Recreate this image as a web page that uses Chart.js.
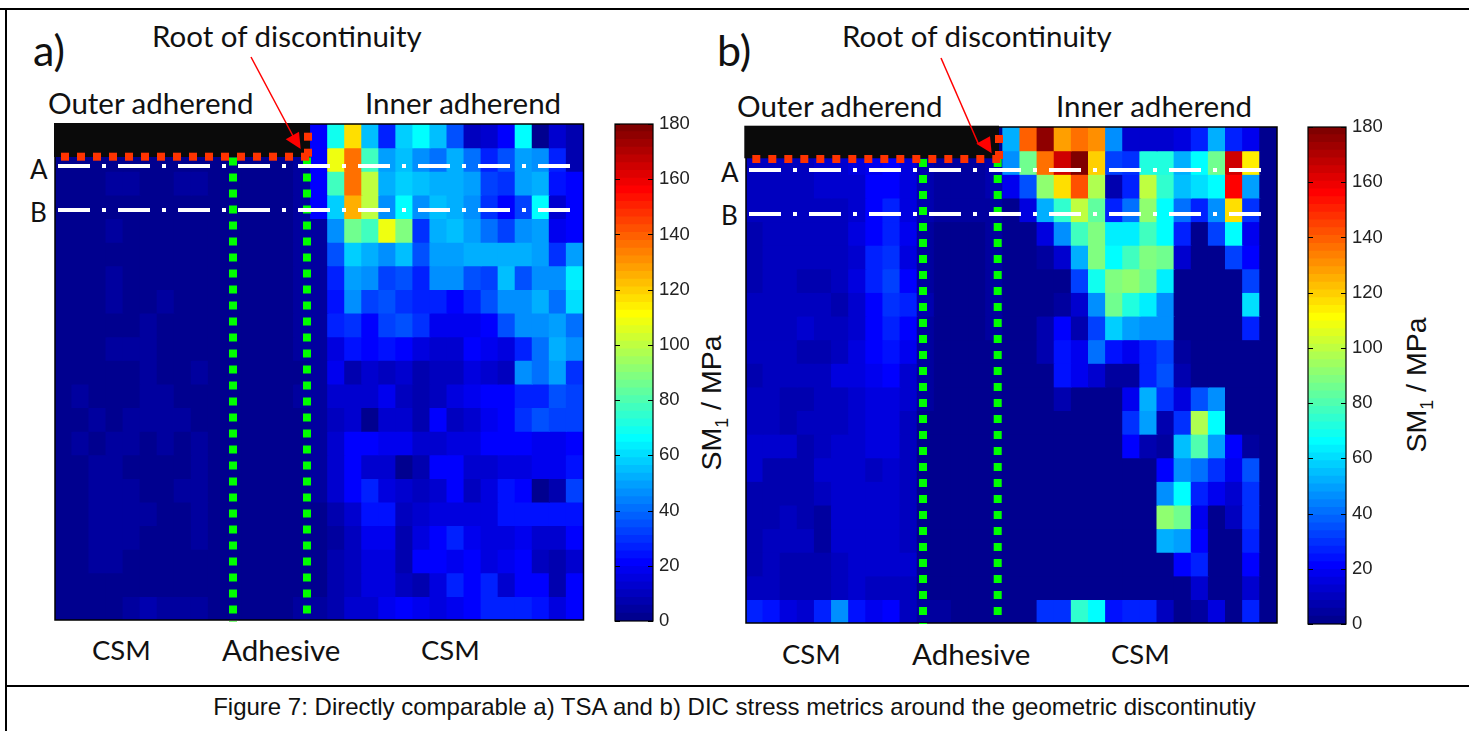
<!DOCTYPE html>
<html>
<head>
<meta charset="utf-8">
<title>Figure 7</title>
<script src="https://cdn.jsdelivr.net/npm/chart.js@4"></script>
<style>
    html, body { margin: 0; padding: 0; background: #fff; overflow: hidden; }
    #page { position: relative; width: 1469px; height: 731px; overflow: hidden; }
    canvas { position: absolute; }
    .rule { position: absolute; background: #000; }
    .txt { position: absolute; font-family: Lato, sans-serif; font-size: 29.5px; line-height: 34px; color: #111; white-space: nowrap; }
    .csm { font-size: 27.5px; }
    .tag { font-size: 26px; }
    .panel { font-size: 43px; line-height: 44px; }
    .ylab { position: absolute; font-family: "Liberation Sans", Arial, sans-serif; font-size: 28.5px; line-height: 28px; color: #111; white-space: nowrap; transform: translate(-50%, -50%) rotate(-90deg); }
    .ylab sub { font-size: 18px; line-height: 0; }
    #caption { position: absolute; left: 0; width: 1469px; text-align: center; top: 695px; font-family: "Liberation Sans", Arial, sans-serif; font-size: 24px; line-height: 24px; color: #111; white-space: nowrap; }
</style>
</head>
<body>
<div id="page">
    <div class="rule" style="left:0;top:8px;width:1469px;height:2px"></div>
    <div class="rule" style="left:5px;top:8px;width:2px;height:723px"></div>
    <div class="rule" style="left:6px;top:685px;width:1463px;height:2px"></div>

    <div class="txt panel" style="left:33px;top:28px">a)</div>
    <div class="txt" style="left:152px;top:19px">Root of discontinuity</div>
    <div class="txt" style="left:48px;top:86px">Outer adherend</div>
    <div class="txt" style="left:365px;top:86px">Inner adherend</div>
    <div class="txt tag" style="left:30px;top:152px">A</div>
    <div class="txt tag" style="left:30px;top:195px">B</div>
    <div class="txt csm" style="left:92px;top:633px">CSM</div>
    <div class="txt" style="left:222px;top:633px">Adhesive</div>
    <div class="txt csm" style="left:421px;top:633px">CSM</div>
    <div class="ylab" style="left:711px;top:403px">SM<sub>1</sub> / MPa</div>

    <div class="txt panel" style="left:717px;top:28px">b)</div>
    <div class="txt" style="left:842px;top:19px">Root of discontinuity</div>
    <div class="txt" style="left:737px;top:89px">Outer adherend</div>
    <div class="txt" style="left:1056px;top:89px">Inner adherend</div>
    <div class="txt tag" style="left:721px;top:155px">A</div>
    <div class="txt tag" style="left:721px;top:198px">B</div>
    <div class="txt csm" style="left:782px;top:637px">CSM</div>
    <div class="txt" style="left:912px;top:637px">Adhesive</div>
    <div class="txt csm" style="left:1111px;top:637px">CSM</div>
    <div class="ylab" style="left:1416px;top:385px">SM<sub>1</sub> / MPa</div>

    <div id="caption">Figure 7: Directly comparable a) TSA and b) DIC stress metrics around the geometric discontinutiy</div>

    <canvas id="mapA" style="left:40px;top:50px" width="560" height="590"></canvas>
    <canvas id="barA" style="left:610px;top:110px" width="90" height="530"></canvas>
    <canvas id="mapB" style="left:731px;top:50px" width="560" height="590"></canvas>
    <canvas id="barB" style="left:1303px;top:113px" width="90" height="530"></canvas>
</div>

<script>
// colour scale, MPa
const scaleMin = 0;
const scaleMax = 180;
const scaleStep = 20;
const scaleLevels = 64;

// a) TSA, SM1 in MPa, one row per line, top to bottom, 31 columns
const tsaValues = [
    [2,2,2,2,2,2,2,2,2,2,2,2,2,2,2,22,70,118,55,28,59,67,55,36,11,13,21,67,2,14,8],
    [2,2,2,2,2,2,2,2,2,2,2,2,2,2,5,22,108,135,78,50,55,45,42,53,42,26,36,50,45,26,8],
    [2,2,2,5,5,2,2,5,5,2,2,2,2,2,5,22,78,135,100,53,59,55,52,53,48,33,30,50,52,24,20],
    [2,2,2,2,2,2,2,2,2,2,2,2,2,2,5,22,58,126,100,45,67,47,55,52,45,30,22,33,65,14,20],
    [2,2,2,5,2,2,2,2,2,2,2,2,2,2,5,5,45,85,78,108,88,30,52,56,50,42,33,47,50,17,20],
    [2,2,2,2,2,2,2,2,2,2,2,2,2,2,5,5,36,58,53,45,56,36,50,50,53,52,52,53,50,30,50],
    [2,2,2,5,2,2,2,2,2,2,2,2,2,2,5,5,26,50,46,33,36,28,47,45,36,33,56,36,45,45,63],
    [2,2,2,5,2,2,5,2,2,2,2,2,2,2,5,5,24,45,33,36,30,26,26,22,26,36,47,47,53,42,60],
    [2,2,2,2,2,5,2,2,2,2,2,2,2,2,5,5,26,30,22,33,36,30,18,17,18,20,36,45,45,50,42],
    [2,2,2,5,5,5,2,2,2,2,2,2,2,2,5,5,16,24,22,24,22,15,13,12,22,17,16,26,42,53,45],
    [2,2,2,2,2,5,2,2,5,2,2,2,2,2,2,5,17,8,12,10,14,7,10,9,15,12,10,45,42,50,30],
    [2,5,2,2,2,5,5,2,2,2,2,2,2,2,5,4,12,12,14,17,10,8,10,16,18,20,22,28,26,36,33],
    [2,2,5,2,5,5,5,5,2,2,2,2,2,2,2,4,9,14,2,12,12,8,20,10,12,18,20,30,36,33,33],
    [2,5,2,5,5,2,5,2,5,2,2,2,2,2,2,4,13,20,20,17,17,13,13,15,15,22,20,20,17,17,22],
    [2,2,5,5,2,2,2,2,5,2,2,2,2,2,2,4,12,20,14,14,2,7,20,20,14,14,16,16,19,19,24],
    [2,2,5,5,5,2,2,5,5,2,2,2,2,2,2,4,12,22,28,16,12,11,12,22,11,16,24,22,2,7,33],
    [2,2,5,5,5,5,2,2,5,2,2,2,2,2,2,2,7,12,24,24,10,14,15,15,15,15,24,24,24,24,24],
    [2,2,5,5,5,2,2,2,5,2,2,2,2,2,2,2,4,11,19,19,7,15,22,28,17,15,15,17,13,14,20],
    [2,2,5,5,2,2,2,2,2,2,2,2,2,2,2,2,8,11,16,16,8,20,20,17,20,16,18,22,11,7,14],
    [2,2,2,2,2,2,2,2,2,2,2,2,2,2,2,2,6,9,16,16,11,8,15,28,22,28,14,21,21,6,22],
    [2,2,2,2,5,7,5,5,5,2,2,2,2,2,5,5,6,14,14,19,22,19,15,18,22,28,26,26,24,15,22]
];

// b) DIC, SM1 in MPa, same grid
const dicValues = [
    [2,2,2,2,2,2,2,2,2,2,2,2,2,2,2,52,140,175,128,135,130,45,14,13,13,16,26,53,28,17,2],
    [11,11,11,11,12,13,15,19,20,15,6,5,5,5,6,45,85,135,165,178,119,33,30,72,72,53,65,85,165,114,2],
    [10,10,10,10,12,13,14,20,22,15,6,5,5,5,6,17,36,90,118,143,96,8,26,100,75,56,60,67,157,48,2],
    [10,10,10,10,9,11,14,22,28,15,6,5,5,5,5,2,15,52,75,100,82,28,42,90,65,42,28,47,116,30,2],
    [6,10,10,10,10,11,15,22,28,17,5,2,2,2,5,2,2,16,45,78,88,62,63,78,65,28,2,33,67,17,2],
    [6,10,10,10,10,11,14,26,30,16,5,2,2,2,5,2,2,5,14,52,88,67,78,88,85,14,2,2,33,22,2],
    [8,10,10,7,7,11,15,26,32,20,5,2,2,2,5,2,2,2,2,33,70,88,90,85,62,2,2,2,2,33,2],
    [9,9,9,11,11,7,14,22,30,28,6,2,2,2,5,2,2,2,5,14,47,85,72,63,45,2,2,2,2,60,2],
    [9,9,11,14,11,11,14,20,26,20,5,2,2,2,5,2,2,8,22,8,33,58,50,47,45,2,2,2,2,26,2],
    [9,9,9,8,8,11,15,20,24,18,5,2,2,2,2,2,2,8,24,18,42,24,19,26,33,4,2,2,2,2,2],
    [8,11,9,9,11,15,15,17,22,14,5,2,2,2,2,2,2,2,24,17,14,4,5,26,36,6,2,2,2,2,2],
    [10,10,7,7,10,10,12,15,16,13,5,2,2,2,2,2,2,2,6,2,2,2,18,52,30,16,36,46,2,2,2],
    [10,10,7,11,11,10,12,15,15,11,2,2,2,2,2,2,2,2,2,2,2,2,30,48,8,30,96,67,2,2,2],
    [14,12,12,8,11,12,12,15,15,11,2,2,2,2,2,2,2,2,2,2,2,2,22,7,4,55,80,48,20,5,2],
    [14,8,8,8,12,14,14,11,14,11,2,2,2,2,2,2,2,2,2,2,2,2,2,2,22,45,42,30,17,36,2],
    [7,7,7,7,11,14,14,14,14,11,2,2,2,2,2,2,2,2,2,2,2,2,2,2,45,67,28,18,12,30,2],
    [7,7,10,7,5,12,14,12,12,11,2,2,2,2,2,2,2,2,2,2,2,2,2,2,90,85,17,2,11,30,2],
    [7,10,10,10,5,12,14,12,12,11,2,2,2,2,2,2,2,2,2,2,2,2,2,2,53,50,22,2,2,26,2],
    [7,10,7,7,7,10,14,12,12,14,2,2,2,2,2,2,2,2,2,2,2,2,2,2,2,22,28,2,2,22,2],
    [10,10,7,7,7,10,12,9,9,11,2,2,2,2,2,2,2,2,2,2,2,2,2,2,2,2,12,2,2,12,2],
    [28,24,16,14,28,45,24,17,20,9,5,5,2,2,2,2,2,30,30,75,67,24,28,28,11,2,5,15,2,27,2]
];

// MATLAB style jet, 64 steps
function jet(value) {
    let i = Math.floor((value - scaleMin) / (scaleMax - scaleMin) * scaleLevels);
    i = Math.max(0, Math.min(scaleLevels - 1, i));
    const clamp = v => Math.max(0, Math.min(1, v));
    const r = i <= 55 ? clamp((i - 23) / 16) : (71 - i) / 16;
    const g = i <= 39 ? clamp((i - 7) / 16) : clamp((55 - i) / 16);
    const b = i <= 23 ? clamp((i + 9) / 16) : clamp((39 - i) / 16);
    return `rgb(${Math.round(r * 255)},${Math.round(g * 255)},${Math.round(b * 255)})`;
}

// overlay drawn on top of a map, pixel offsets are relative to the plot corner
const overlayPlugin = {
    id: 'overlay',
    afterDatasetsDraw(chart, args, opts) {
        const { ctx, chartArea: area } = chart;
        const line = (x1, y1, x2, y2, color, width, dash) => {
            ctx.beginPath();
            ctx.strokeStyle = color;
            ctx.lineWidth = width;
            ctx.setLineDash(dash);
            ctx.moveTo(area.left + x1, area.top + y1);
            ctx.lineTo(area.left + x2, area.top + y2);
            ctx.stroke();
        };
        ctx.save();

        // axes frame
        ctx.setLineDash([]);
        ctx.strokeStyle = '#000';
        ctx.lineWidth = 1.5;
        ctx.strokeRect(area.left, area.top, area.width, area.height);

        // the part hidden by the outer adherend
        ctx.fillStyle = '#0a0a0a';
        ctx.fillRect(area.left + opts.mask.x, area.top + opts.mask.y, opts.mask.w, opts.mask.h);

        // adhesive boundaries
        opts.green.forEach(g => line(g.x, g.y1, g.x, g.y2, '#00ff00', 8, [8, 8]));

        // section lines A and B
        opts.white.forEach(y => line(opts.whiteFrom, y, opts.whiteTo, y, '#fff', 4, [32, 12, 4, 12]));

        // root outline
        line(opts.red.x1, opts.red.y, opts.red.x2, opts.red.y, '#ff3300', 8, [8, 8]);
        line(opts.red.vx, opts.red.vy1, opts.red.vx, opts.red.vy2, '#ff3300', 8, [8, 8]);

        // arrow
        const a = opts.arrow;
        line(a.from[0], a.from[1], a.neck[0], a.neck[1], '#ff0000', 1.5, []);
        ctx.fillStyle = '#ff0000';
        ctx.beginPath();
        ctx.moveTo(area.left + a.tip[0], area.top + a.tip[1]);
        ctx.lineTo(area.left + a.w1[0], area.top + a.w1[1]);
        ctx.lineTo(area.left + a.w2[0], area.top + a.w2[1]);
        ctx.closePath();
        ctx.fill();
        ctx.restore();
    }
};

// ticks on the colour bar point inwards from both sides
const barFramePlugin = {
    id: 'barFrame',
    afterDatasetsDraw(chart) {
        const { ctx, chartArea: area, scales } = chart;
        ctx.save();
        ctx.strokeStyle = '#000';
        ctx.lineWidth = 1.2;
        ctx.strokeRect(area.left, area.top, area.width, area.height);
        scales.y.ticks.forEach(t => {
            const y = Math.round(scales.y.getPixelForValue(t.value)) + 0.5;
            ctx.beginPath();
            ctx.moveTo(area.left, y);
            ctx.lineTo(area.left + 5, y);
            ctx.moveTo(area.right - 5, y);
            ctx.lineTo(area.right, y);
            ctx.stroke();
        });
        ctx.restore();
    }
};

// one floating bar per cell: column on x, row span on y, colour from the value
function createMap(id, values, overlay) {
    const columns = values[0].map((v, i) => i);
    const datasets = values.map((row, r) => ({
        data: row.map(() => [r, r + 1]),
        backgroundColor: row.map(jet),
        borderWidth: 0,
        inflateAmount: 0.6, // stops seams between cells
        barPercentage: 1,
        categoryPercentage: 1,
        grouped: false
    }));
    return new Chart(document.getElementById(id), {
        type: 'bar',
        data: { labels: columns, datasets },
        options: {
            responsive: false,
            animation: false,
            events: [],
            layout: { padding: overlay.padding },
            plugins: { legend: { display: false }, tooltip: { enabled: false }, overlay },
            scales: {
                x: { display: false, grid: { display: false } },
                y: { display: false, reverse: true, min: 0, max: values.length, grid: { display: false } }
            }
        },
        plugins: [overlayPlugin]
    });
}

function createColorBar(id) {
    const step = (scaleMax - scaleMin) / scaleLevels;
    const levels = Array.from({ length: scaleLevels }, (v, i) => scaleMin + i * step);
    return new Chart(document.getElementById(id), {
        type: 'bar',
        data: {
            labels: ['SM1'],
            datasets: levels.map(level => ({
                data: [[level, level + step]],
                backgroundColor: jet(level + step / 2),
                borderWidth: 0,
                inflateAmount: 0.6,
                barPercentage: 1,
                categoryPercentage: 1,
                grouped: false
            }))
        },
        options: {
            responsive: false,
            animation: false,
            events: [],
            layout: { padding: { left: 5, right: 0, top: 14, bottom: 19 } },
            plugins: { legend: { display: false }, tooltip: { enabled: false } },
            scales: {
                x: { display: false, grid: { display: false } },
                y: {
                    position: 'right',
                    min: scaleMin,
                    max: scaleMax,
                    afterFit: scale => {
                        scale.width = 47;
                        scale.paddingTop = 0;
                        scale.paddingBottom = 0;
                    },
                    border: { display: false },
                    grid: { display: false, drawTicks: false },
                    ticks: {
                        stepSize: scaleStep,
                        padding: 6,
                        color: '#222',
                        font: { family: '"Liberation Sans", Arial, sans-serif', size: 18.5 }
                    }
                }
            }
        },
        plugins: [barFramePlugin]
    });
}

document.addEventListener('DOMContentLoaded', () => {
    createMap('mapA', tsaValues, {
        padding: { left: 15, right: 16.5, top: 74, bottom: 20 },
        mask: { x: -1, y: -1, w: 256, h: 34 },
        green: [{ x: 178, y1: 33.5, y2: 498 }, { x: 252, y1: 33.5, y2: 490 }],
        white: [42, 86],
        whiteFrom: 3,
        whiteTo: 515,
        red: { x1: 6, x2: 255, y: 32.7, vx: 253, vy1: 8.7, vy2: 33 },
        arrow: { from: [196, -67], neck: [238, 12], tip: [245.7, 25], w1: [230.7, 15.3], w2: [244, 7.7] }
    });
    createMap('mapB', dicValues, {
        padding: { left: 15, right: 14, top: 77, bottom: 17 },
        mask: { x: -1.7, y: -1.3, w: 254.7, h: 32.6 },
        green: [{ x: 177, y1: 32, y2: 497 }, { x: 251.7, y1: 32, y2: 490 }],
        white: [43, 87],
        whiteFrom: 3,
        whiteTo: 515,
        red: { x1: 6.3, x2: 256, y: 32, vx: 253, vy1: 8, vy2: 32 },
        arrow: { from: [195, -69], neck: [232, 16], tip: [245.7, 26.3], w1: [230.3, 16.7], w2: [244, 9.3] }
    });
    createColorBar('barA');
    createColorBar('barB');
});
</script>
</body>
</html>
